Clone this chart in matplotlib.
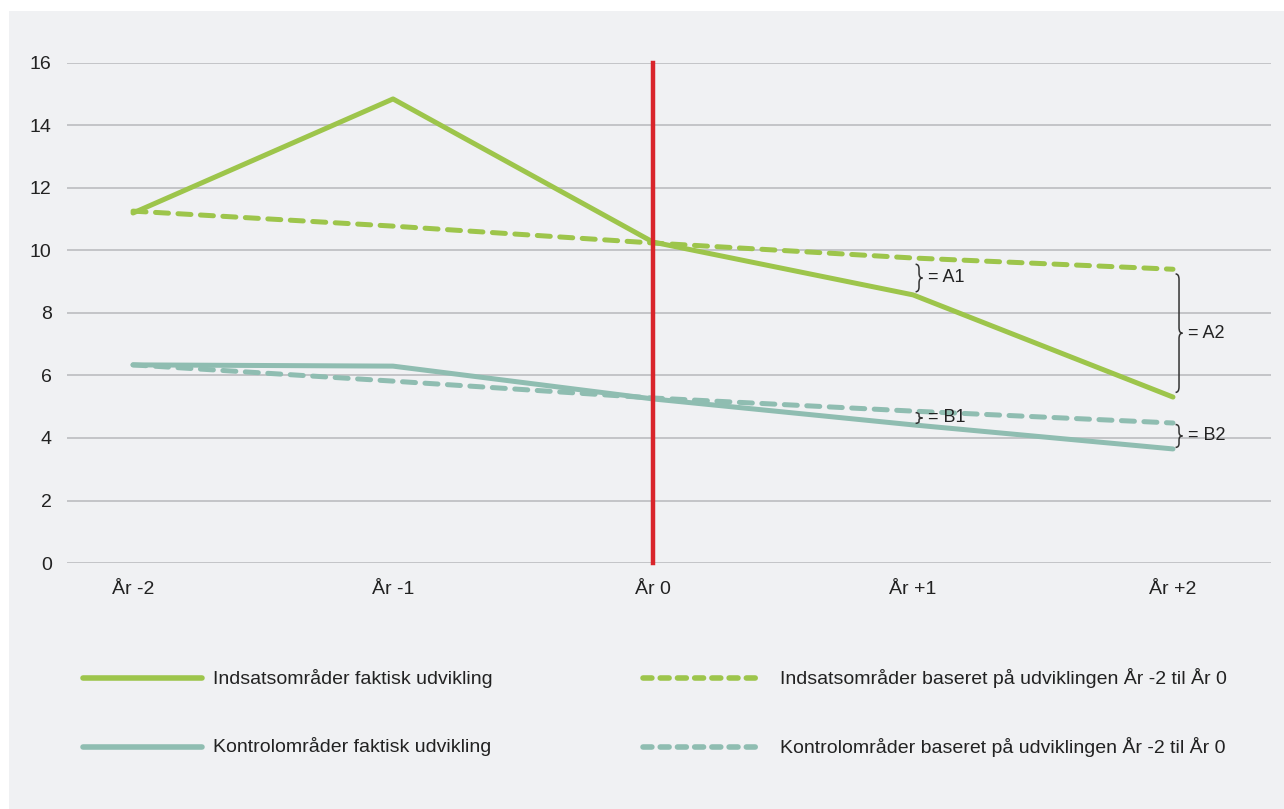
import numpy as np
import matplotlib.pyplot as plt
from matplotlib.path import Path
from matplotlib.patches import PathPatch, Rectangle
from matplotlib.lines import Line2D

plt.rcParams['font.family'] = ['Liberation Sans', 'DejaVu Sans']

# Data
years = ['År -2', 'År -1', 'År 0', 'År +1', 'År +2']
indsats_faktisk = [11.2, 14.85, 10.27, 8.58, 5.31]
indsats_baseret = [11.26, 10.78, 10.24, 9.76, 9.40]
kontrol_faktisk = [6.34, 6.30, 5.25, 4.42, 3.65]
kontrol_baseret = [6.34, 5.82, 5.28, 4.86, 4.48]
yticks = [0, 2, 4, 6, 8, 10, 12, 14, 16]

green = '#9dc54b'
teal = '#8fbdb1'
red = '#d9252b'
bg = '#f0f1f3'
x = np.arange(len(years))

fig = plt.figure(figsize=(12.84, 8.09), dpi=100, facecolor='white')
fig.add_artist(Rectangle((9 / 1284, 0), 1, 1 - 11 / 809, transform=fig.transFigure,
                         facecolor=bg, edgecolor='none', zorder=-10))
ax = fig.add_axes([67 / 1284, 1 - 563 / 809, (1271 - 67) / 1284, 500 / 809])
ax.set_facecolor('none')

ax.set_xlim(-0.254, 4.377)
ax.set_ylim(0, 16)
ax.set_yticks(yticks)
ax.set_xticks(x)
ax.set_xticklabels(years)
ax.grid(axis='y', color='#c0c1c4', linewidth=1.3)
ax.set_axisbelow(True)
for s in ax.spines.values():
    s.set_visible(False)
ax.tick_params(axis='both', length=0, labelsize=14, colors='#222222')
ax.tick_params(axis='x', pad=13)
ax.tick_params(axis='y', pad=11)

lw = 3.6
ax.plot(x, indsats_baseret, color=green, lw=lw, dashes=(2.6, 1.9), dash_capstyle='round', clip_on=False)
ax.plot(x, kontrol_baseret, color=teal, lw=lw, dashes=(2.6, 1.9), dash_capstyle='round', clip_on=False)
ax.plot(x, indsats_faktisk, color=green, lw=lw, solid_capstyle='round', clip_on=False)
ax.plot(x, kontrol_faktisk, color=teal, lw=lw, solid_capstyle='round', clip_on=False)
ax.plot([2, 2], [0, 16], color=red, lw=3.2, clip_on=False, zorder=5)


def brace(xd, y0, y1, label):
    # curly brace between y0 (bottom) and y1 (top) in data coords
    w = 0.022
    ym = (y0 + y1) / 2
    c = 0.35 * min(abs(y1 - y0) / 2, 0.5)
    verts = [(xd, y1), (xd + w * 0.6, y1), (xd + w * 0.6, y1 - c),
             (xd + w * 0.6, ym + c),
             (xd + w * 0.6, ym), (xd + w * 1.2, ym),
             (xd + w * 0.6, ym), (xd + w * 0.6, ym - c),
             (xd + w * 0.6, y0 + c),
             (xd + w * 0.6, y0), (xd, y0)]
    codes = [Path.MOVETO, Path.CURVE3, Path.CURVE3, Path.LINETO,
             Path.CURVE3, Path.CURVE3, Path.CURVE3, Path.CURVE3,
             Path.LINETO, Path.CURVE3, Path.CURVE3]
    ax.add_patch(PathPatch(Path(verts, codes), facecolor='none', edgecolor='#333333', lw=1.1, zorder=6))
    ax.text(xd + w * 1.2 + 0.022, ym, label, fontsize=13, va='center', ha='left', color='#222222', zorder=6)


brace(3.01, indsats_faktisk[3] + 0.1, indsats_baseret[3] - 0.2, '= A1')
brace(3.01, kontrol_faktisk[3] + 0.05, kontrol_baseret[3] - 0.05, '= B1')
brace(4.01, indsats_faktisk[4] + 0.15, indsats_baseret[4] - 0.15, '= A2')
brace(4.01, kontrol_faktisk[4] + 0.05, kontrol_baseret[4] - 0.05, '= B2')

# Legend
labels = ['Indsatsområder faktisk udvikling',
          'Kontrolområder faktisk udvikling',
          'Indsatsområder baseret på udviklingen År -2 til År 0',
          'Kontrolområder baseret på udviklingen År -2 til År 0']
colors = [green, teal, green, teal]
styles = ['solid', 'solid', 'dashed', 'dashed']
xs = [(83, 202, 213), (83, 202, 213), (643, 760, 780), (643, 760, 780)]
ys = [678, 747, 678, 747]
for lab, col, st, (x0, x1, xt), yy in zip(labels, colors, styles, xs, ys):
    yf = 1 - yy / 809
    kw = dict(dashes=(1.6, 1.5), dash_capstyle='round') if st == 'dashed' else dict(solid_capstyle='round')
    fig.add_artist(Line2D([x0 / 1284, x1 / 1284], [yf, yf], color=col, lw=4, transform=fig.transFigure, **kw))
    fig.text(xt / 1284, yf, lab, fontsize=14, va='center', ha='left', color='#222222')

fig.savefig('out.png', dpi=100, facecolor=fig.get_facecolor())
